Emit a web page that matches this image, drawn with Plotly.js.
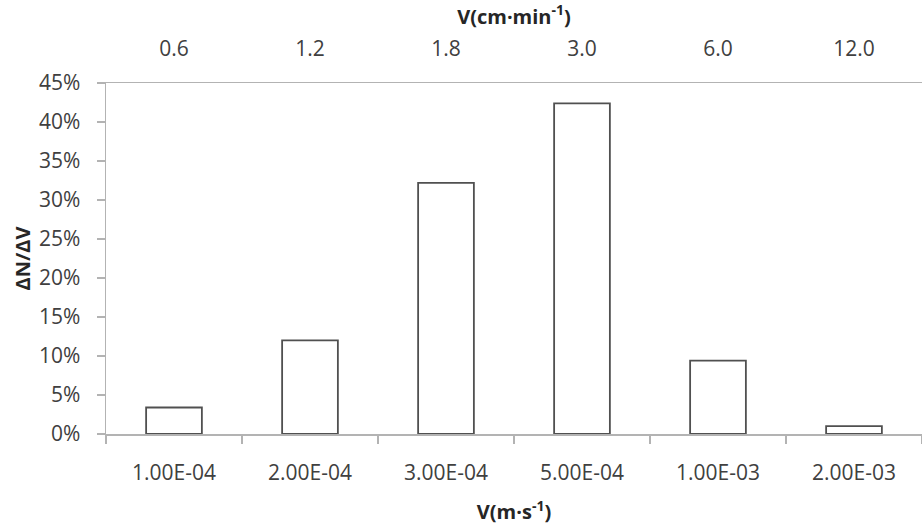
<!DOCTYPE html>
<html>
<head>
<meta charset="utf-8">
<script src="https://cdn.plot.ly/plotly-3.0.1.min.js"></script>
<style>html,body{margin:0;padding:0;background:#fff;overflow:hidden}#chart{width:922px;height:525px}</style>
</head>
<body>
<div id="chart"></div>
<script>
var bottomLabels = ["1.00E-04", "2.00E-04", "3.00E-04", "5.00E-04", "1.00E-03", "2.00E-03"];
var topLabels = ["0.6", "1.2", "1.8", "3.0", "6.0", "12.0"];
var shareValues = [0.034, 0.12, 0.322, 0.424, 0.094, 0.01];

var font = {family: "Open Sans, sans-serif", size: 21, color: "#404040"};
var titleFont = {family: "Open Sans, sans-serif", size: 20, color: "#262626"};

var traces = [
  {
    type: "bar",
    x: bottomLabels,
    y: shareValues,
    xaxis: "x",
    yaxis: "y",
    marker: {color: "#ffffff", line: {color: "#505050", width: 1.8}},
    hoverinfo: "skip",
    showlegend: false
  },
  {
    type: "bar",
    x: topLabels,
    y: shareValues,
    xaxis: "x2",
    yaxis: "y",
    marker: {color: "rgba(0,0,0,0)", line: {width: 0}},
    hoverinfo: "skip",
    showlegend: false
  }
];

var layout = {
  width: 922,
  height: 525,
  margin: {l: 106, r: 0, t: 83, b: 91},
  paper_bgcolor: "#ffffff",
  plot_bgcolor: "#ffffff",
  font: font,
  bargap: 0.59,
  showlegend: false,
  xaxis: {
    type: "category",
    categoryorder: "array",
    categoryarray: bottomLabels,
    range: [-0.5, 5.5],
    showline: true,
    linecolor: "#b3b3b3",
    linewidth: 1.5,
    ticks: "outside",
    tickson: "boundaries",
    ticklen: 8,
    tickcolor: "#b3b3b3",
    tickwidth: 1.5,
    showgrid: false,
    zeroline: false,
    ticklabelstandoff: 19,
    tickfont: font,
    title: {text: "<b>V(m·s<sup>-1</sup>)</b>", font: titleFont, standoff: 21},
    automargin: false
  },
  xaxis2: {
    type: "category",
    categoryorder: "array",
    categoryarray: topLabels,
    range: [-0.5, 5.5],
    overlaying: "x",
    side: "top",
    showline: true,
    linecolor: "#b3b3b3",
    linewidth: 1.5,
    ticks: "",
    showgrid: false,
    zeroline: false,
    ticklabelstandoff: 17,
    tickfont: font,
    title: {text: "<b>V(cm·min<sup>-1</sup>)</b>", font: titleFont, standoff: 4},
    automargin: false
  },
  yaxis: {
    range: [0, 0.45],
    dtick: 0.05,
    tick0: 0,
    tickformat: ".0%",
    showline: true,
    linecolor: "#b3b3b3",
    linewidth: 1.5,
    ticks: "outside",
    ticklen: 8,
    tickcolor: "#b3b3b3",
    tickwidth: 1.5,
    showgrid: false,
    zeroline: false,
    ticklabelstandoff: 12,
    tickfont: font,
    title: {text: "<b>ΔN/ΔV</b>", font: titleFont, standoff: 3},
    automargin: false
  }
};

Plotly.newPlot("chart", traces, layout, {displayModeBar: false, staticPlot: true});
</script>
</body>
</html>
